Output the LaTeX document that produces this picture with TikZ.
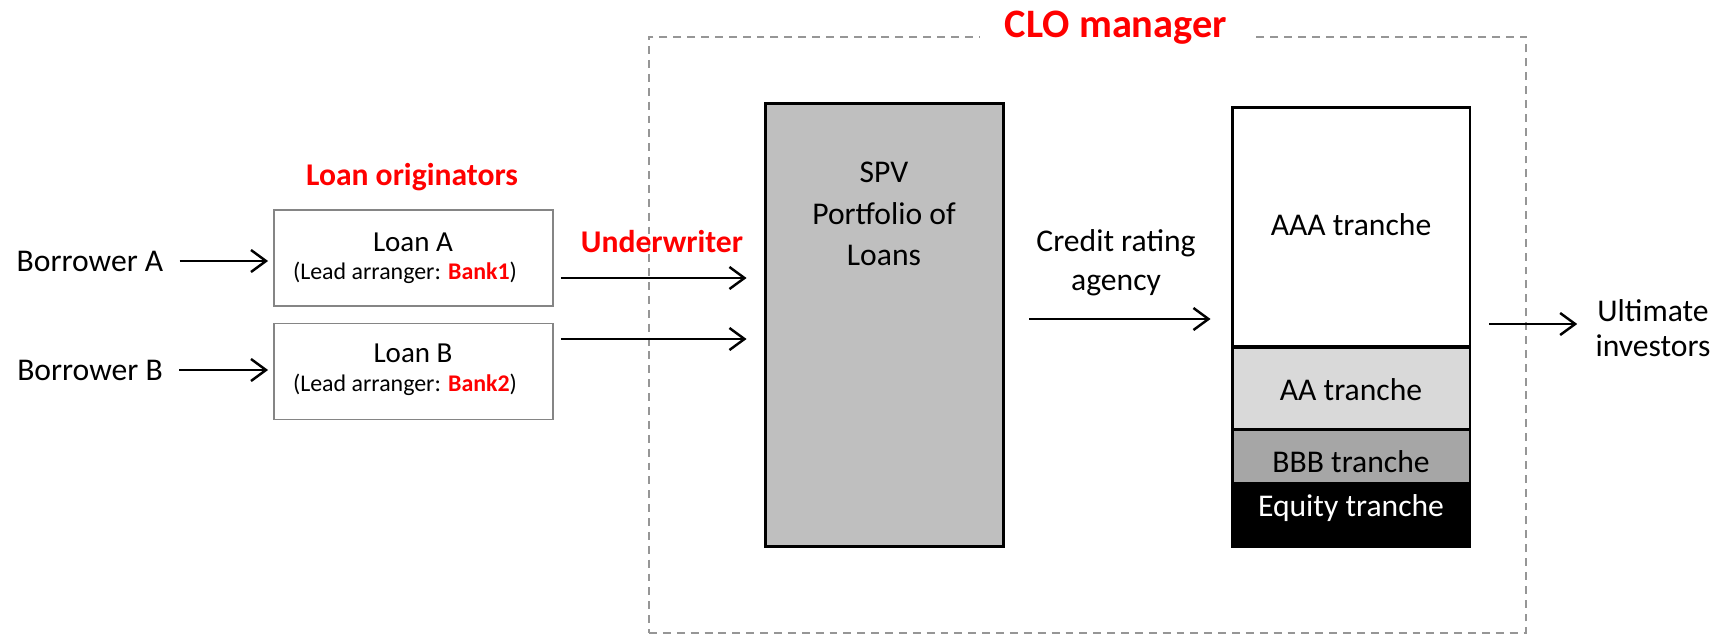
\documentclass[tikz,border=0pt]{standalone}
\usepackage{fontspec}
\setmainfont{Carlito}
\usepackage{xcolor}
\usepackage{tikz}
\usetikzlibrary{arrows.meta,calc}
\definecolor{CLOred}{HTML}{FF0000}
\definecolor{SPVfill}{HTML}{BFBFBF}
\definecolor{AAfill}{HTML}{D9D9D9}
\definecolor{BBBfill}{HTML}{A6A6A6}
\definecolor{LoanEdge}{HTML}{858585}
\definecolor{MgrEdge}{HTML}{969696}

\begin{document}
\begin{tikzpicture}[x=0.02cm, y=-0.02cm,
  txt/.style={inner sep=0pt, align=center, font=\fontsize{18}{22}\selectfont},
  head/.style={inner sep=0pt, text=CLOred, font=\fontsize{18}{22}\selectfont\bfseries},
  loanbox/.style={draw=LoanEdge, line width=1.1pt, minimum width=5.58cm, minimum height=1.92cm},
  tranche/.style={draw, line width=1.7pt, minimum width=4.76cm, inner sep=0pt},
  arr/.style={line width=1.4pt, -{Straight Barb[length=0.3cm, width=0.44cm, line width=1.4pt]}}]%
\useasboundingbox (0,0) rectangle (1733,636);%
% CLO manager frame
\node[draw=MgrEdge, line width=1.1pt, dash pattern=on 4.5pt off 3.4pt, minimum width=17.54cm, minimum height=11.93cm] (mgr) at (1087.5,334.75) {};%
\node[head, fill=white, inner xsep=0.5cm, inner ysep=2pt, anchor=base, font=\fontsize{23}{27}\selectfont\bfseries] (mgrLabel) at (1116,37) {CLO manager};%
% borrowers and loans
\node[txt] (borrowerA) at (90,261) {Borrower A};%
\node[txt] (borrowerB) at (90,370) {Borrower B};%
\node[head] (origLabel) at (412,177) {Loan originators};%
\node[loanbox] (loanA) at (413.5,258) {};%
\node[loanbox] (loanB) at (413.5,371.5) {};%
\node[inner sep=0pt, font=\fontsize{16.5}{20}\selectfont] (loanAName) at (413,242) {Loan A};%
\node[inner sep=0pt, font=\fontsize{13.6}{16}\selectfont] (loanALead) at (405,273) {(Lead arranger: \textcolor{CLOred}{\textbf{Bank1}})};%
\node[inner sep=0pt, font=\fontsize{16.5}{20}\selectfont] (loanBName) at (413,353) {Loan B};%
\node[inner sep=0pt, font=\fontsize{13.6}{16}\selectfont] (loanBLead) at (405,385) {(Lead arranger: \textcolor{CLOred}{\textbf{Bank2}})};%
\node[head] (uwLabel) at (662,242) {Underwriter};%
% SPV
\node[draw, line width=1.7pt, fill=SPVfill, minimum width=4.78cm, minimum height=8.88cm] (spv) at (884.5,325) {};%
\node[txt, font=\fontsize{18}{23.5}\selectfont] (spvText) at (884,214) {SPV\\Portfolio of\\Loans};%
\node[txt] (cra) at (1116,263) {Credit rating\\agency};%
% tranches
\node[tranche, fill=white, minimum height=4.8cm] (aaa) at (1351,227) {};%
\node[tranche, fill=AAfill, minimum height=1.64cm] (aa) at (1351,388) {};%
\node[tranche, fill=BBBfill, minimum height=1.08cm] (bbb) at (1351,456) {};%
\node[tranche, fill=black, minimum height=1.28cm] (equity) at (1351,515) {};%
\node[txt] (aaaText) at (1351,225) {AAA tranche};%
\node[txt] (aaText) at (1351,390) {AA tranche};%
\node[txt] (bbbText) at (1351,462) {BBB tranche};%
\node[txt, text=white] (equityText) at (1351,508) {Equity tranche};%
\node[txt, font=\fontsize{18}{20}\selectfont] (investors) at (1653,328) {Ultimate\\investors};%
% flows
\draw[arr, shorten <=0.32cm, shorten >=0.1cm] (borrowerA.east) -- (borrowerA.east -| loanA.west);%
\draw[arr, shorten <=0.32cm, shorten >=0.1cm] (borrowerB.east) -- (borrowerB.east -| loanB.west);%
\draw[arr] ($(loanA.east)+(7,20)$) -- ($(loanA.east -| spv.west)+(-17,20)$);%
\draw[arr] ($(loanB.east)+(7,-32.5)$) -- ($(loanB.east -| spv.west)+(-17,-32.5)$);%
\draw[arr] ($(spv.east)+(24,-6)$) -- ($(spv.east -| aaa.west)+(-20,-6)$);%
\draw[arr] ($(aaa.east)+(18,97)$) -- ($(aaa.east -| investors.west)+(-18,97)$);%
\end{tikzpicture}
\end{document}
